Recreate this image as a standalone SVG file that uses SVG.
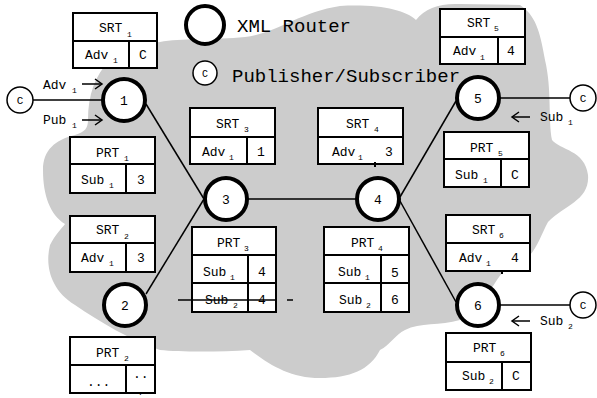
<svg xmlns="http://www.w3.org/2000/svg" width="597" height="398" viewBox="0 0 597 398">
<defs>
<style>
.t{font-family:"Liberation Mono","Courier New",monospace;font-size:13px;fill:#000}
.s{font-family:"Liberation Mono","Courier New",monospace;font-size:8px;fill:#000}
.m{text-anchor:middle}
.lg{font-family:"Liberation Mono","Courier New",monospace;font-size:19px;fill:#000}
.box{fill:#fff;stroke:#000;stroke-width:2}
.gl{stroke:#000;stroke-width:2;fill:none}
.ln{stroke:#000;stroke-width:1.5;fill:none}
.router{fill:#fff;stroke:#000;stroke-width:4}
.client{fill:#fff;stroke:#000;stroke-width:1.5}
</style>
<marker id="ah" markerWidth="10" markerHeight="12" refX="8" refY="6" orient="auto" markerUnits="userSpaceOnUse">
<path d="M1,1 L8,6 L1,11" fill="none" stroke="#000" stroke-width="1.5"/>
</marker>
</defs>
<rect width="597" height="398" fill="#fff"/>
<path id="cloud" fill="#cccccc" d="M160,42 C180,38 215,40 245,37 C275,34 300,12 340,6 C380,4 405,10 416,20 C425,8 440,3 460,4 L520,5 C535,15 540,30 545,60 C552,90 548,120 552,140 C560,150 585,150 588,175 C590,200 565,205 548,222 C538,240 535,262 505,270 C490,285 485,310 460,320 C440,326 420,322 405,330 C395,335 390,345 380,350 C370,370 350,378 320,378 C290,378 270,365 250,350 C220,352 180,352 160,350 C130,340 100,322 75,305 C50,290 45,265 50,245 C55,235 62,228 65,224 C50,215 43,195 43,170 C43,150 55,140 75,135 C85,132 88,128 88,120 C88,95 95,75 110,60 C125,48 145,43 160,42 Z"/>

<g id="legend">
<circle class="router" cx="205" cy="25" r="19"/>
<text class="lg" x="237" y="32">XML Router</text>
<circle class="client" cx="205" cy="73" r="12"/>
<text class="t m" x="205" y="77" style="font-size:10px">C</text>
<text class="lg" x="232" y="82">Publisher/Subscriber</text>
</g>

<g id="connectors">
<line class="ln" x1="33" y1="100" x2="103" y2="100"/>
<line class="ln" x1="146" y1="104" x2="204" y2="199"/>
<line class="ln" x1="146" y1="294" x2="204" y2="199"/>
<line class="ln" x1="247" y1="199" x2="357" y2="199"/>
<line class="ln" x1="400" y1="197" x2="456" y2="101"/>
<line class="ln" x1="400" y1="201" x2="456" y2="302"/>
<line class="ln" x1="499" y1="98" x2="570" y2="98"/>
<line class="ln" x1="499" y1="305" x2="570" y2="305"/>
<line class="ln" x1="82" y1="84" x2="102" y2="84" marker-end="url(#ah)"/>
<line class="ln" x1="82" y1="120" x2="102" y2="120" marker-end="url(#ah)"/>
<line class="ln" x1="530" y1="117" x2="512" y2="117" marker-end="url(#ah)"/>
<line class="ln" x1="530" y1="321" x2="512" y2="321" marker-end="url(#ah)"/>
<text class="t" x="43" y="89">Adv</text><text class="s" x="72" y="93">1</text>
<text class="t" x="43" y="124">Pub</text><text class="s" x="72" y="128">1</text>
<text class="t" x="540" y="121">Sub</text><text class="s" x="568" y="125">1</text>
<text class="t" x="540" y="325">Sub</text><text class="s" x="568" y="329">2</text>
</g>

<g id="client-left"><circle class="client" cx="20" cy="100" r="13"/><text class="t m" x="20" y="104" style="font-size:11px">C</text></g>
<g id="client-5"><circle class="client" cx="583" cy="98" r="13"/><text class="t m" x="583" y="102" style="font-size:11px">C</text></g>
<g id="client-6"><circle class="client" cx="583" cy="305" r="13"/><text class="t m" x="583" y="309" style="font-size:11px">C</text></g>

<g id="router-1"><circle class="router" cx="124" cy="100" r="21"/><text class="t m" x="124" y="105">1</text></g>
<g id="router-2"><circle class="router" cx="125" cy="305" r="21"/><text class="t m" x="125" y="310">2</text></g>
<g id="router-3"><circle class="router" cx="226" cy="199" r="21"/><text class="t m" x="226" y="204">3</text></g>
<g id="router-4"><circle class="router" cx="378" cy="199" r="21"/><text class="t m" x="378" y="204">4</text></g>
<g id="router-5"><circle class="router" cx="478" cy="98" r="21"/><text class="t m" x="478" y="103">5</text></g>
<g id="router-6"><circle class="router" cx="478" cy="305" r="21"/><text class="t m" x="478" y="310">6</text></g>

<g id="srt1">
<rect class="box" x="73" y="13" width="84" height="55"/>
<line class="gl" x1="73" y1="41" x2="157" y2="41"/><line class="gl" x1="129" y1="41" x2="129" y2="68"/>
<text class="t" x="99" y="32">SRT</text><text class="s" x="127" y="37">1</text>
<text class="t" x="85" y="59">Adv</text><text class="s" x="113" y="63">1</text>
<text class="t m" x="143" y="59">C</text>
</g>
<g id="prt1">
<rect class="box" x="70" y="137" width="85" height="56"/>
<line class="gl" x1="70" y1="164" x2="155" y2="164"/><line class="gl" x1="126" y1="164" x2="126" y2="193"/>
<text class="t" x="96" y="157">PRT</text><text class="s" x="124" y="161">1</text>
<text class="t" x="81" y="184">Sub</text><text class="s" x="109" y="188">1</text>
<text class="t m" x="141" y="184">3</text>
</g>
<g id="srt2">
<rect class="box" x="70" y="216" width="85" height="56"/>
<line class="gl" x1="70" y1="243" x2="155" y2="243"/><line class="gl" x1="126" y1="243" x2="126" y2="272"/>
<text class="t" x="96" y="234">SRT</text><text class="s" x="124" y="239">2</text>
<text class="t" x="81" y="262">Adv</text><text class="s" x="109" y="266">1</text>
<text class="t m" x="141" y="262">3</text>
</g>
<g id="prt2">
<rect class="box" x="70" y="337" width="85" height="56"/>
<line class="gl" x1="70" y1="365" x2="155" y2="365"/><line class="gl" x1="126" y1="365" x2="126" y2="393"/>
<text class="t" x="96" y="357">PRT</text><text class="s" x="124" y="361">2</text>
<text class="t" x="87" y="386">...</text>
<text class="t" x="133" y="378">..</text>
<text class="s" x="138" y="395">.</text>
</g>
<g id="srt3">
<rect class="box" x="190" y="108" width="85" height="56"/>
<line class="gl" x1="190" y1="137" x2="275" y2="137"/><line class="gl" x1="247" y1="137" x2="247" y2="164"/>
<text class="t" x="216" y="128">SRT</text><text class="s" x="244" y="132">3</text>
<text class="t" x="202" y="156">Adv</text><text class="s" x="229" y="160">1</text>
<text class="t m" x="261" y="156">1</text>
</g>
<g id="srt4">
<rect class="box" x="318" y="108" width="85" height="56"/>
<line class="gl" x1="318" y1="137" x2="403" y2="137"/><line class="gl" x1="375" y1="162" x2="375" y2="167"/>
<text class="t" x="346" y="128">SRT</text><text class="s" x="374" y="132">4</text>
<text class="t" x="332" y="156">Adv</text><text class="s" x="358" y="160">1</text>
<text class="t m" x="389" y="156">3</text>
</g>
<g id="prt3">
<rect class="box" x="192" y="227" width="84" height="85"/>
<line class="gl" x1="192" y1="255" x2="276" y2="255"/><line class="gl" x1="192" y1="283" x2="276" y2="283"/>
<line class="gl" x1="248" y1="255" x2="248" y2="312"/>
<text class="t" x="217" y="247">PRT</text><text class="s" x="244" y="251">3</text>
<text class="t" x="203" y="276">Sub</text><text class="s" x="230" y="280">1</text>
<text class="t m" x="262" y="276">4</text>
<line class="ln" x1="178" y1="300" x2="276" y2="300"/>
<line class="ln" x1="287" y1="300" x2="293" y2="300"/>
<text class="t" x="205" y="304">Sub</text><text class="s" x="233" y="308">2</text>
<text class="t m" x="262" y="304">4</text>
</g>
<g id="prt4">
<rect class="box" x="324" y="227" width="85" height="85"/>
<line class="gl" x1="324" y1="255" x2="409" y2="255"/><line class="gl" x1="324" y1="283" x2="409" y2="283"/>
<line class="gl" x1="381" y1="255" x2="381" y2="312"/>
<text class="t" x="351" y="247">PRT</text><text class="s" x="378" y="251">4</text>
<text class="t" x="338" y="276">Sub</text><text class="s" x="365" y="280">1</text>
<text class="t m" x="395" y="277">5</text>
<text class="t" x="339" y="304">Sub</text><text class="s" x="366" y="308">2</text>
<text class="t m" x="395" y="304">6</text>
</g>
<g id="srt5">
<rect class="box" x="440" y="9" width="85" height="55"/>
<line class="gl" x1="440" y1="37" x2="525" y2="37"/><line class="gl" x1="498" y1="37" x2="498" y2="64"/>
<text class="t" x="467" y="27">SRT</text><text class="s" x="494" y="31">5</text>
<text class="t" x="453" y="55">Adv</text><text class="s" x="480" y="60">1</text>
<text class="t m" x="511" y="55">4</text>
</g>
<g id="prt5">
<rect class="box" x="444" y="132" width="85" height="55"/>
<line class="gl" x1="444" y1="159" x2="529" y2="159"/><line class="gl" x1="501" y1="159" x2="501" y2="187"/>
<text class="t" x="470" y="152">PRT</text><text class="s" x="498" y="156">5</text>
<text class="t" x="455" y="179">Sub</text><text class="s" x="483" y="183">1</text>
<text class="t m" x="515" y="179">C</text>
</g>
<g id="srt6">
<rect class="box" x="446" y="215" width="84" height="56"/>
<line class="gl" x1="446" y1="243" x2="530" y2="243"/><line class="gl" x1="502" y1="271" x2="502" y2="274"/>
<text class="t" x="472" y="234">SRT</text><text class="s" x="499" y="238">6</text>
<text class="t" x="459" y="262">Adv</text><text class="s" x="486" y="266">1</text>
<text class="t m" x="515" y="262">4</text>
</g>
<g id="prt6">
<rect class="box" x="446" y="333" width="85" height="57"/>
<line class="gl" x1="446" y1="362" x2="531" y2="362"/><line class="gl" x1="502" y1="362" x2="502" y2="390"/>
<text class="t" x="473" y="352">PRT</text><text class="s" x="500" y="356">6</text>
<text class="t" x="462" y="380">Sub</text><text class="s" x="489" y="384">2</text>
<text class="t m" x="516" y="380">C</text>
</g>
</svg>
